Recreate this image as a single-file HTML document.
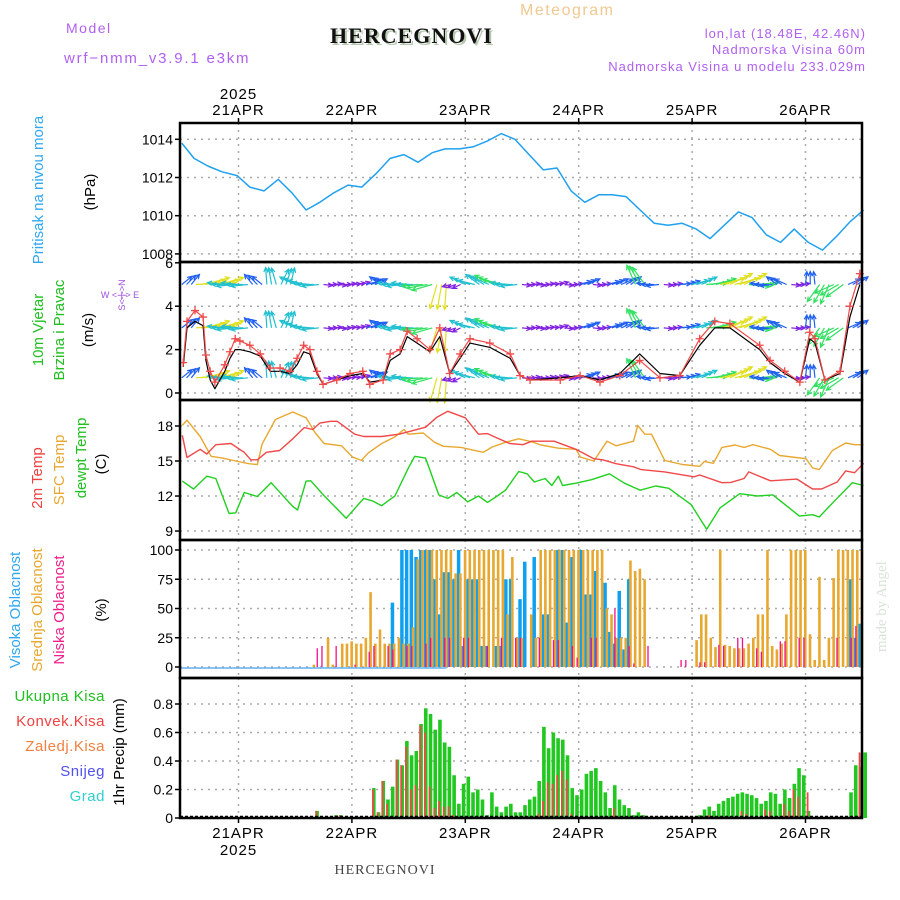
<!DOCTYPE html>
<html><head><meta charset="utf-8"><style>
html,body{margin:0;padding:0;background:#fff;}
svg{display:block;font-family:"Liberation Sans",sans-serif;}
</style></head><body>
<svg id="chart" width="900" height="900" viewBox="0 0 900 900" xmlns="http://www.w3.org/2000/svg">
<rect x="0" y="0" width="900" height="900" fill="#fff"/>
<text x="66" y="33" font-size="14" fill="#b060f0" letter-spacing="1.5">Model</text>
<text x="64" y="63" font-size="15" fill="#b060f0" letter-spacing="1.8">wrf−nmm_v3.9.1 e3km</text>
<text x="332" y="45" font-family="Liberation Serif, serif" font-weight="bold" font-size="22" fill="#b8c8b0" letter-spacing="1">HERCEGNOVI</text>
<text x="330" y="43" font-family="Liberation Serif, serif" font-weight="bold" font-size="22" fill="#111" letter-spacing="1">HERCEGNOVI</text>
<text x="520" y="15" font-size="16" fill="#f0c890" letter-spacing="1.5">Meteogram</text>
<text x="866" y="38" text-anchor="end" font-size="13" fill="#b060f0" letter-spacing="1">lon,lat (18.48E, 42.46N)</text>
<text x="866" y="54" text-anchor="end" font-size="13" fill="#b060f0" letter-spacing="1">Nadmorska Visina 60m</text>
<text x="866" y="71" text-anchor="end" font-size="13" fill="#b060f0" letter-spacing="1">Nadmorska Visina u modelu 233.029m</text>
<text x="385" y="874" text-anchor="middle" font-family="Liberation Serif, serif" font-size="14" fill="#444" letter-spacing="1">HERCEGNOVI</text>
<text transform="translate(886,652) rotate(-90)" font-family="Liberation Serif, serif" font-size="15" fill="#d8e4d8">made by Angel</text>

<text transform="translate(43,190) rotate(-90)" text-anchor="middle" font-size="15" fill="#30a8f0">Pritisak na nivou mora</text>
<text transform="translate(95,192) rotate(-90)" text-anchor="middle" font-size="15" fill="#000">(hPa)</text>
<text transform="translate(43,330) rotate(-90)" text-anchor="middle" font-size="15" fill="#20c020">10m Vjetar</text>
<text transform="translate(64,330) rotate(-90)" text-anchor="middle" font-size="15" fill="#20c020">Brzina i Pravac</text>
<text transform="translate(93,330) rotate(-90)" text-anchor="middle" font-size="15" fill="#000">(m/s)</text>
<text transform="translate(125,295) rotate(-90)" text-anchor="middle" font-size="9" fill="#a050e0">S&lt;-|-&gt;N</text>
<text x="120" y="298" text-anchor="middle" font-size="9" fill="#a050e0">W &lt;-|-&gt; E</text>
<text transform="translate(42,478) rotate(-90)" text-anchor="middle" font-size="15" fill="#f04040">2m Temp</text>
<text transform="translate(64,470) rotate(-90)" text-anchor="middle" font-size="15" fill="#e8a830">SFC Temp</text>
<text transform="translate(86,458) rotate(-90)" text-anchor="middle" font-size="15" fill="#20c020">dewpt Temp</text>
<text transform="translate(106,464) rotate(-90)" text-anchor="middle" font-size="15" fill="#000">(C)</text>
<text transform="translate(20,610) rotate(-90)" text-anchor="middle" font-size="15" fill="#30a8f0">Visoka Oblacnost</text>
<text transform="translate(42,610) rotate(-90)" text-anchor="middle" font-size="15" fill="#e8a830">Srednja Oblacnost</text>
<text transform="translate(64,610) rotate(-90)" text-anchor="middle" font-size="15" fill="#f0208c">Niska Oblacnost</text>
<text transform="translate(106,610) rotate(-90)" text-anchor="middle" font-size="15" fill="#000">(%)</text>
<text x="105" y="701" text-anchor="end" font-size="15" fill="#20c020" letter-spacing="0.5">Ukupna  Kisa</text>
<text x="105" y="726" text-anchor="end" font-size="15" fill="#f04040" letter-spacing="0.5">Konvek.Kisa</text>
<text x="105" y="751" text-anchor="end" font-size="15" fill="#f08040" letter-spacing="0.5">Zaledj.Kisa</text>
<text x="105" y="776" text-anchor="end" font-size="15" fill="#5050f0" letter-spacing="0.5">Snijeg</text>
<text x="105" y="801" text-anchor="end" font-size="15" fill="#30d0d0" letter-spacing="0.5">Grad</text>
<text transform="translate(124,752) rotate(-90)" text-anchor="middle" font-size="15" fill="#000">1hr Precip (mm)</text>
<g id="plots"></g>
</svg>
<script>
const dayHours = [12,36,60,84,108,132];
const dayLabels = ["21APR","22APR","23APR","24APR","25APR","26APR"];
const pressTicks = [1008,1010,1012,1014];
const windTicks = [0,2,4,6];
const tempTicks = [9,12,15,18];
const cloudTicks = [0,25,50,75,100];
const precipTicks = [0,0.2,0.4,0.6,0.8];
const precipTickLabels = ["0","0.2","0.4","0.6","0.8"];

const pressHours = [0,2.6,5.5,8.5,11.7,14.4,17.4,20.4,23.3,26.3,29.2,32.2,35.2,38.1,41.1,44.1,47,50,53,55.7,58.7,61.6,64.6,67.6,70.5,73.5,76.5,79.4,82.4,85.3,88.3,91.1,94,97,100,102.9,105.9,108.9,111.8,114.8,117.8,120.7,123.7,126.7,129.6,132.6,135.6,138.5,141.5,144.3];
const pressVals = [1013.8,1013.0,1012.6,1012.3,1012.1,1011.5,1011.3,1011.9,1011.2,1010.3,1010.7,1011.2,1011.6,1011.5,1012.2,1013.0,1013.2,1012.8,1013.3,1013.5,1013.5,1013.6,1013.9,1014.3,1014.0,1013.2,1012.4,1012.5,1011.3,1010.7,1011.1,1011.1,1011.0,1010.3,1009.6,1009.5,1009.6,1009.3,1008.8,1009.5,1010.2,1009.9,1009.0,1008.6,1009.3,1008.6,1008.2,1008.9,1009.7,1010.3];

const t2Hours = [0.1,1.1,3.9,5.3,7.2,10.4,13.2,14.6,16,17.9,20.7,23.5,25.9,27.7,29.2,31.5,32.9,36.6,38.5,42.3,46,48.8,51.6,54,56.3,60,62.8,64.7,66.6,69.4,72.2,74.1,78.8,83.4,87.2,89.1,91.9,95.6,97.2,102.2,108.4,109.6,114.3,116.2,119,120,124.6,130.2,133.5,135.4,138.7,140.5,142.4,144.3];
const t2Vals = [17.2,15.3,16.0,15.6,16.4,16.5,15.75,15.1,15.1,15.75,15.9,16.9,17.86,17.7,18.25,18.4,18.4,17.3,17.1,17.1,17.3,17.6,17.9,18.75,19.26,18.7,17.3,17.35,17.0,16.5,16.4,16.7,16.7,16.0,15.2,15.1,14.77,14.5,14.26,14.07,13.65,13.8,13.14,13.17,13.5,14.07,13.3,13.45,12.6,12.6,13.2,14.15,14.0,14.8];

const sfcHours = [0.1,1.1,3.9,6.2,8.6,11.4,14.2,16,17,19.8,23.5,26.3,28.2,30.1,33.8,36.2,38,39.4,42.3,45.1,47,47.9,51.1,53.5,55.4,59.1,63.8,65.7,68.5,71.3,74.1,76,79.7,83.4,84.4,87.2,90,91.9,95.6,96.5,98,99.4,102.2,105.9,109.6,110.6,112.5,114.3,117.1,119,120.9,124.6,126.5,132.1,133.5,134.9,137.7,140.5,142.4,144.3];
const sfcVals = [18.05,18.5,17.1,15.4,15.25,15.0,14.77,14.7,16.45,18.56,19.2,18.7,17.44,16.5,16.3,15.33,15.05,15.67,16.5,17.07,17.7,17.3,17.4,16.6,16.26,16.17,15.75,16.2,16.6,16.9,16.65,16.37,16.1,16.0,15.33,15.0,16.7,16.3,16.7,18.05,17.3,17.3,15.05,14.7,14.55,14.97,14.8,16.17,16.37,16.17,16.4,16.0,15.47,15.2,14.4,14.26,15.9,16.54,16.4,16.4];

const dewHours = [0.1,2.5,5.3,7.2,10,11.4,13.2,16,18.9,23.5,24.5,26.3,27.3,30.1,34.8,38.5,40.4,42.3,43.7,45.1,47.9,49.3,51.6,54.4,56.3,58.2,60.5,62.8,64.7,66.6,68.5,71.3,73.1,74.6,76.9,78.3,79.7,80.6,83.4,86.7,90.5,93.7,97,100.3,103.1,107.8,111.1,113.9,118.1,121.8,125.1,130.7,133.5,134.9,138.2,141.9,144.3];
const dewVals = [13.28,12.6,13.7,13.5,10.5,10.56,12.3,11.96,13.14,11.1,10.8,13.28,13.3,12.04,10.1,11.8,11.57,11.17,11.6,12.0,14.35,15.4,15.25,12.1,11.8,12.3,11.5,12.0,11.45,11.96,12.5,14.1,13.9,13.2,13.5,12.9,13.7,12.9,13.1,13.4,13.9,13.1,12.5,12.86,12.66,11.26,9.15,10.98,12.2,12.0,12.1,10.28,10.4,10.2,11.6,13.14,12.9];

const spdHours = [0.3,1.1,2.8,4.5,5.1,6,7,9.1,10.2,11.3,12.3,14.4,16.6,18.7,20.8,22.9,24.4,25.8,27.1,28.6,29.9,32.8,35.6,38.3,39.8,42.6,44.1,46.2,47.7,49.8,52.5,54.6,56.7,58.9,61,65.2,69.5,71.6,73.7,80.1,84.3,88.5,92.7,96.9,101.2,105.4,109.6,112.8,116,122.3,124.5,127.6,130.8,132.9,134,136.1,139.3,141.4,143.5];
const spdVals = [1.4,3.3,3.8,3.5,1.75,1.0,0.5,1.3,1.9,2.5,2.4,2.2,1.8,1.15,1.15,1.0,1.6,2.2,2.0,1.0,0.4,0.6,0.9,1.0,0.4,0.6,1.8,2.0,2.85,2.5,2.0,3.0,0.9,1.8,2.5,2.3,1.8,0.8,0.6,0.6,0.8,0.5,0.8,1.5,0.7,0.8,2.5,3.3,3.2,2.2,1.5,1.0,0.5,2.8,2.5,0.6,1.0,4.0,5.5];
const spdLineVals = [1.2,3.0,3.3,3.1,1.5,0.6,0.2,1.0,1.6,2.0,2.0,1.9,1.7,1.0,1.0,0.9,1.3,1.9,1.8,0.9,0.4,0.6,0.8,0.9,0.5,0.6,1.5,1.8,2.6,2.3,1.9,2.6,0.9,1.6,2.3,2.1,1.6,0.8,0.6,0.7,0.8,0.6,0.9,1.8,0.9,0.8,2.2,3.0,3.0,2.0,1.4,0.9,0.5,2.5,2.3,0.6,0.9,3.5,5.0];

const arrowDir = [45,10,10,180,180,135,100,70,160,180,0,0,10,20,150,180,180,190,-100,200,160,150,160,180,0,0,10,0,20,0,20,30,120,180,0,10,20,10,20,20,0,180,150,0,90,-120,-150,30,0];
const arrowLevel = [1,4,4,2,2,1,2,2,2,2,0,0,0,1,1,2,2,3,4,0,2,2,3,2,0,0,0,0,1,0,1,1,3,1,0,1,2,3,4,4,3,1,1,0,1,3,3,1,0];
const arrowRows = [5.0,3.0,0.7];

const highHours = [44,46,47,48,49,50,51,52,53,54,55,56,57,58,59,60,61,62,63,64,66,67,68,69,71,72,74,76,77,79,80,81,82,84,85,86,87,89,90,91,92,93,94,141,142,143];
const highVals = [55,100,100,100,94,100,100,100,75,45,81,81,75,100,18,75,75,75,18,18,18,18,75,75,58,90,94,45,45,100,100,38,94,100,62,62,82,72,30,20,65,15,75,75,25,37];
const midHours = [27,30,31,33,34,35,36,37,38,39,40,41,42,43,44,45,46,47,48,49,50,51,52,53,54,55,56,57,58,59,60,61,62,63,64,65,66,67,68,69,70,71,73,74,75,76,77,78,79,80,81,82,83,84,85,86,87,88,89,90,91,92,93,94,95,96,97,108,109,110,111,112,113,114,115,116,117,118,119,120,121,122,123,124,125,126,127,128,129,130,131,132,133,134,135,136,137,138,139,140,141,142,143];
const midVals = [2,25,2,20,20,22,20,20,25,64,20,32,20,20,20,25,20,20,34,92,100,100,100,100,100,100,100,80,80,100,100,100,100,100,100,100,100,100,45,94,25,25,45,25,100,100,100,100,100,100,100,100,100,100,100,100,100,100,50,45,25,25,25,91,82,84,75,23,45,45,25,17,100,19,18,16,16,16,20,25,45,45,100,18,15,20,45,100,100,100,100,28,6,77,6,25,76,100,100,100,100,100,100];
const lowHours = [28,29,32,36,39,40,43,44,47,48,51,52,55,56,59,60,64,67,70,71,75,78,79,82,83,86,87,91,94,95,98,105,106,109,110,113,114,117,118,121,122,126,127,130,131,138,141,142];
const lowVals = [16,18,18,2,13,18,18,15,18,18,20,25,25,25,25,25,18,25,25,25,25,23,23,18,8,25,25,50,18,3,18,6,6,4,4,19,18,25,25,16,13,22,22,25,25,25,25,35];

const precipHours = [28,32,33,40,41,42,43,44,45,46,47,48,49,50,51,52,53,54,55,56,57,58,59,60,61,62,63,64,65,66,67,68,69,70,71,72,73,74,75,76,77,78,79,80,81,82,83,84,85,86,87,88,89,90,91,92,93,94,95,96,97,109,110,111,112,113,114,115,116,117,118,119,120,121,122,123,124,125,126,127,128,129,130,131,132,141,142,143,144];
const precipTotal = [0.05,0.02,0.02,0.21,0.04,0.26,0.13,0.22,0.41,0.37,0.54,0.44,0.47,0.66,0.77,0.73,0.62,0.69,0.53,0.50,0.30,0.10,0.24,0.29,0.18,0.20,0.13,0.02,0.18,0.08,0.04,0.08,0.10,0.04,0.04,0.09,0.13,0.15,0.26,0.64,0.49,0.60,0.56,0.55,0.44,0.21,0.16,0.20,0.31,0.33,0.35,0.26,0.18,0.07,0.23,0.13,0.09,0.07,0.02,0.04,0.02,0.02,0.06,0.08,0.05,0.10,0.12,0.14,0.15,0.17,0.18,0.17,0.16,0.14,0.10,0.12,0.18,0.17,0.10,0.20,0.14,0.24,0.35,0.30,0.05,0.18,0.37,0.36,0.46];
const precipConv = [0.05,0,0.02,0.20,0.04,0.26,0.10,0,0.41,0.37,0.50,0.20,0.23,0.65,0.60,0.22,0.07,0.12,0.08,0.08,0.02,0,0.01,0,0,0,0,0,0,0,0,0,0,0,0,0,0,0,0.03,0.12,0.25,0.24,0.30,0.33,0.27,0.03,0,0,0,0,0,0,0,0,0.07,0,0,0,0,0,0,0,0,0.02,0,0,0,0,0,0,0.05,0.03,0,0,0,0.06,0.05,0,0,0.1,0.05,0.2,0.15,0,0.18,0,0,0.46];

const X0 = 180, X1 = 862;
const X = h => 181.8 + 4.725*h;
const panels = {
  press:{top:123,bot:262,y:v=>139.3+(1014-v)*19.1},
  wind:{top:262,bot:400,y:v=>393-v*21.7},
  temp:{top:400,bot:540,y:v=>426+(18-v)*11.67},
  cloud:{top:540,bot:678,y:v=>667-v*1.17},
  precip:{top:678,bot:818,y:v=>818-v*142.5}
};
const NS = "http://www.w3.org/2000/svg";
const root = document.getElementById('plots');
function mk(tag, attrs, parent){
  const e = document.createElementNS(NS, tag);
  for (const k in attrs) e.setAttribute(k, attrs[k]);
  (parent||root).appendChild(e);
  return e;
}
function gridAndAxis(p, ticks, labels, name){
  const g = mk('g', {});
  
  
  dayHours.forEach(h=>{
    const l = mk('line',{x1:X(h),x2:X(h),y1:p.top,y2:p.bot,stroke:'#aaa','stroke-width':1.5,'stroke-dasharray':'2,5'},g);
    
    
  });
  ticks.forEach((v,i)=>{
    const y = p.y(v);
    const l = mk('line',{x1:X0,x2:X1,y1:y,y2:y,stroke:'#aaa','stroke-width':1.5,'stroke-dasharray':'2,5'},g);
    
    
    mk('line',{x1:X0-5,x2:X0,y1:y,y2:y,stroke:'#000','stroke-width':1.5},g);
    const t = mk('text',{x:X0-7,y:y+5,'text-anchor':'end','font-size':14,fill:'#000'},g);
    t.textContent = labels[i];
    
    
  });
}
function frame(p, name){
  const r = mk('rect',{x:X0,y:p.top,width:X1-X0,height:p.bot-p.top,fill:'none',stroke:'#000','stroke-width':2.5});
  
  
}
function line(p, hs, vs, color, name, w){
  const d = hs.map((h,i)=>(i?'L':'M')+X(h).toFixed(1)+','+p.y(vs[i]).toFixed(1)).join('');
  const e = mk('path',{d:d,fill:'none',stroke:color,'stroke-width':w||1.4,'stroke-linejoin':'round'});
  
  
}

const yr = mk('text',{x:X(12),y:99,'text-anchor':'middle','font-size':15,fill:'#000','letter-spacing':1});
yr.textContent = '2025';


dayHours.forEach((h,i)=>{
  const t = mk('text',{x:X(h),y:115,'text-anchor':'middle','font-size':15,fill:'#000','letter-spacing':1});
  t.textContent = dayLabels[i];
  
  
  const b = mk('text',{x:X(h),y:838,'text-anchor':'middle','font-size':15,fill:'#000','letter-spacing':1});
  b.textContent = dayLabels[i];
  
  
});
const yr2 = mk('text',{x:X(12),y:855,'text-anchor':'middle','font-size':15,fill:'#000','letter-spacing':1});
yr2.textContent = '2025';



gridAndAxis(panels.press, pressTicks, pressTicks.map(String), 'pressure');
line(panels.press, pressHours, pressVals, '#20a0f0', 'pressure-line', 1.5);

gridAndAxis(panels.wind, windTicks, windTicks.map(String), 'wind');
const arrowColors = ['#8020e0','#2060f0','#20c0d0','#30e060','#e0e020'];
const ag = mk('g',{});


arrowRows.forEach(rv=>{
  arrowDir.forEach((dir,i)=>{
    for (let k=0;k<3;k++){
      const h = i*3 + k;
      if (X(h) > X1-2) continue;
      const x = X(h), y = panels.wind.y(rv);
      const L = 9 + arrowLevel[i]*4;
      const a = (dir + (k-1)*6)*Math.PI/180;
      const x2 = x + L*Math.cos(a), y2 = y - L*Math.sin(a);
      const c = arrowColors[arrowLevel[i]];
      const ar = mk('path',{d:`M${x},${y}L${x2},${y2}M${x2-5*Math.cos(a-0.45)},${y2+5*Math.sin(a-0.45)}L${x2},${y2}L${x2-5*Math.cos(a+0.45)},${y2+5*Math.sin(a+0.45)}`,stroke:c,'stroke-width':1.2,fill:'none'},ag);
      
      
    }
  });
});
line(panels.wind, spdHours, spdLineVals, '#000', 'wind-speed-line', 1.2);
line(panels.wind, spdHours, spdVals, '#f04848', 'wind-gust-line', 1.2);
spdHours.forEach((h,i)=>{
  const x = X(h), y = panels.wind.y(spdVals[i]);
  const m = mk('path',{d:`M${x-4},${y}H${x+4}M${x},${y-4}V${y+4}`,stroke:'#f04848','stroke-width':1.3});
  
  
});

gridAndAxis(panels.temp, tempTicks, tempTicks.map(String), 'temp');
line(panels.temp, sfcHours, sfcVals, '#e8a830', 'sfc-temp-line');
line(panels.temp, t2Hours, t2Vals, '#f04848', 'temp-2m-line');
line(panels.temp, dewHours, dewVals, '#20d020', 'dewpoint-line');

gridAndAxis(panels.cloud, cloudTicks, cloudTicks.map(String), 'cloud');
const base = mk('line',{x1:X0,x2:X(56),y1:panels.cloud.y(0)+1,y2:panels.cloud.y(0)+1,stroke:'#60b0f0','stroke-width':1.5});


highHours.forEach((h,i)=>{
  const y = panels.cloud.y(highVals[i]);
  const r = mk('rect',{x:X(h)+1,y:y,width:3.5,height:panels.cloud.y(0)-y,fill:'#10a0f0'});
  
  
});
midHours.forEach((h,i)=>{
  const y = panels.cloud.y(midVals[i]);
  const r = mk('rect',{x:X(h)+3.2,y:y,width:2.6,height:panels.cloud.y(0)-y,fill:'#e8a830'});
  
  
});
lowHours.forEach((h,i)=>{
  const y = panels.cloud.y(lowVals[i]);
  const r = mk('rect',{x:X(h)+2.5,y:y,width:1.3,height:panels.cloud.y(0)-y,fill:'#f0108c'});
  
  
});

gridAndAxis(panels.precip, precipTicks, precipTickLabels, 'precip');
precipHours.forEach((h,i)=>{
  const y = panels.precip.y(precipTotal[i]);
  const r = mk('rect',{x:X(h)+1.2,y:y,width:3.6,height:panels.precip.y(0)-y,fill:'#20c820'});
  
  
  if (precipConv[i] > 0){
    const yc = panels.precip.y(precipConv[i]);
    const c = mk('rect',{x:X(h)+1.2,y:yc,width:1.8,height:panels.precip.y(0)-yc,fill:'#f04848'});
    
    
  }
});
const pb = mk('line',{x1:X0,x2:X1,y1:816.5,y2:816.5,stroke:'#000','stroke-width':1.5,'stroke-dasharray':'3,2'});



['press','wind','temp','cloud','precip'].forEach(k=>frame(panels[k], k));
dayHours.forEach(h=>{
  mk('line',{x1:X(h),x2:X(h),y1:118,y2:123,stroke:'#000','stroke-width':1.5});
  mk('line',{x1:X(h),x2:X(h),y1:818,y2:823,stroke:'#000','stroke-width':1.5});
});
</script>
</body></html>
